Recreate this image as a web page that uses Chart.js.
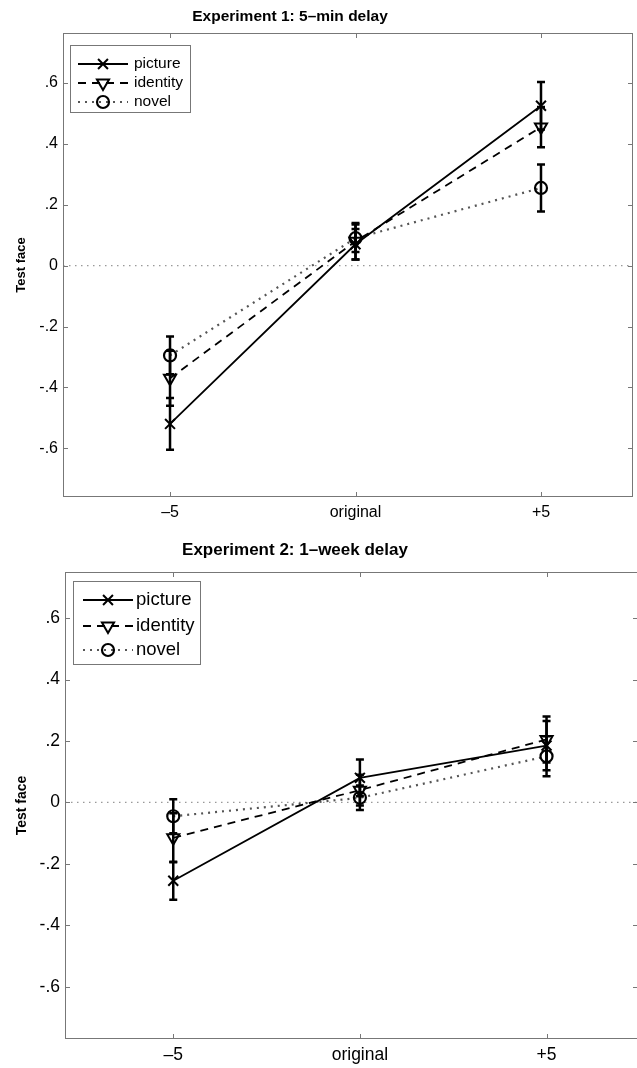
<!DOCTYPE html>
<html>
<head>
<meta charset="utf-8">
<script src="https://cdn.jsdelivr.net/npm/chart.js@4.4.0/dist/chart.umd.min.js"></script>
<style>
  html, body { margin: 0; padding: 0; background: #fff; overflow: hidden; }
  .panel { position: absolute; left: 0; width: 660px; height: 534px; }
</style>
</head>
<body>
<div class="panel" style="top:0"><canvas id="exp1"></canvas></div>
<div class="panel" style="top:534px"><canvas id="exp2"></canvas></div>
<script>
// categorias del eje x y sus posiciones
const categories = ['–5', 'original', '+5'];
const catX = [1, 2, 3];
const yTickValues = [-0.6, -0.4, -0.2, 0, 0.2, 0.4, 0.6];
const yTickLabels = ['-.6', '-.4', '-.2', '0', '.2', '.4', '.6'];
const seriesNames = ['picture', 'identity', 'novel'];

// Experiment 1: 5-min delay
const picture1 = [-0.52, 0.07, 0.525];
const picture1Err = [0.085, 0.05, 0.078];
const identity1 = [-0.37, 0.08, 0.455];
const identity1Err = [0.09, 0.06, 0.066];
const novel1 = [-0.295, 0.09, 0.255];
const novel1Err = [0.062, 0.045, 0.077];

// Experiment 2: 1-week delay
const picture2 = [-0.255, 0.08, 0.185];
const picture2Err = [0.062, 0.06, 0.08];
const identity2 = [-0.115, 0.04, 0.205];
const identity2Err = [0.08, 0.05, 0.075];
const novel2 = [-0.045, 0.015, 0.15];
const novel2Err = [0.055, 0.04, 0.065];

const FONT = '"Liberation Sans", Arial, Helvetica, sans-serif';
const PANEL_W = 660;

// estilo de cada serie
const styles = [
  { borderColor: '#000', borderWidth: 1.8, borderDash: [], pointStyle: 'crossRot', pointRadius: 7, pointBorderWidth: 2, pointRotation: 0 },
  { borderColor: '#000', borderWidth: 1.8, borderDash: [8, 6], pointStyle: 'triangle', pointRadius: 7, pointBorderWidth: 2, pointRotation: 180 },
  { borderColor: '#555', borderWidth: 2.2, borderDash: [2, 5], pointStyle: 'circle', pointRadius: 6, pointBorderWidth: 2.2, pointRotation: 0 }
];

function makeDataset(i, values, errors) {
  return Object.assign({
    label: seriesNames[i],
    data: values.map((v, k) => ({ x: catX[k], y: v })),
    errors: errors,
    pointBorderColor: '#000',
    pointBackgroundColor: 'rgba(0,0,0,0)',
    fill: false,
    tension: 0
  }, styles[i]);
}

// dibuja un marcador como en matlab
function drawMarker(ctx, style, x, y) {
  const r = style.pointRadius;
  ctx.save();
  ctx.strokeStyle = '#000';
  ctx.lineWidth = style.pointBorderWidth;
  ctx.setLineDash([]);
  ctx.beginPath();
  if (style.pointStyle === 'crossRot') {
    const d = r * 0.707;
    ctx.moveTo(x - d, y - d); ctx.lineTo(x + d, y + d);
    ctx.moveTo(x + d, y - d); ctx.lineTo(x - d, y + d);
  } else if (style.pointStyle === 'triangle') {
    ctx.moveTo(x, y + r);
    ctx.lineTo(x - r * 0.866, y - r * 0.5);
    ctx.lineTo(x + r * 0.866, y - r * 0.5);
    ctx.closePath();
  } else {
    ctx.arc(x, y, r, 0, Math.PI * 2);
  }
  ctx.stroke();
  ctx.restore();
}

const matlabLook = {
  id: 'matlabLook',
  beforeDatasetsDraw(chart) {
    // linea punteada en cero
    const ctx = chart.ctx, a = chart.chartArea;
    const y0 = chart.scales.y.getPixelForValue(0);
    ctx.save();
    ctx.strokeStyle = '#999';
    ctx.lineWidth = 1.2;
    ctx.setLineDash([1.5, 4.5]);
    ctx.beginPath();
    ctx.moveTo(a.left, y0); ctx.lineTo(a.right, y0);
    ctx.stroke();
    ctx.restore();
  },
  afterDatasetsDraw(chart) {
    // barras de error
    const ctx = chart.ctx, xs = chart.scales.x, ys = chart.scales.y;
    ctx.save();
    ctx.strokeStyle = '#000';
    ctx.lineWidth = 2.5;
    ctx.setLineDash([]);
    chart.data.datasets.forEach(ds => {
      if (!ds.errors) return;
      ds.data.forEach((p, i) => {
        const px = xs.getPixelForValue(p.x);
        const lo = ys.getPixelForValue(p.y - ds.errors[i]);
        const hi = ys.getPixelForValue(p.y + ds.errors[i]);
        ctx.beginPath();
        ctx.moveTo(px, lo); ctx.lineTo(px, hi);
        ctx.moveTo(px - 4, lo); ctx.lineTo(px + 4, lo);
        ctx.moveTo(px - 4, hi); ctx.lineTo(px + 4, hi);
        ctx.stroke();
      });
    });
    ctx.restore();
  },
  afterDraw(chart, args, opts) {
    const ctx = chart.ctx, a = chart.chartArea, xs = chart.scales.x, ys = chart.scales.y;
    ctx.save();
    // marco y ticks hacia adentro
    ctx.strokeStyle = '#777';
    ctx.lineWidth = 1;
    ctx.setLineDash([]);
    ctx.strokeRect(a.left + 0.5, a.top + 0.5, a.right - a.left - 1, a.bottom - a.top - 1);
    ctx.beginPath();
    ys.ticks.forEach(t => {
      const py = Math.round(ys.getPixelForValue(t.value)) + 0.5;
      ctx.moveTo(a.left, py); ctx.lineTo(a.left + 5, py);
      ctx.moveTo(a.right, py); ctx.lineTo(a.right - 5, py);
    });
    xs.ticks.forEach(t => {
      const px = Math.round(xs.getPixelForValue(t.value)) + 0.5;
      ctx.moveTo(px, a.top); ctx.lineTo(px, a.top + 5);
      ctx.moveTo(px, a.bottom); ctx.lineTo(px, a.bottom - 5);
    });
    ctx.stroke();

    // titulo
    ctx.fillStyle = '#000';
    ctx.font = 'bold ' + opts.titleSize + 'px ' + FONT;
    ctx.textAlign = 'center';
    ctx.textBaseline = 'middle';
    ctx.fillText(opts.title, opts.titleX, opts.titleY);

    // leyenda
    const L = opts.legend;
    ctx.fillStyle = '#fff';
    ctx.fillRect(L.left, L.top, L.right - L.left, L.bottom - L.top);
    ctx.strokeStyle = '#777';
    ctx.strokeRect(L.left + 0.5, L.top + 0.5, L.right - L.left, L.bottom - L.top);
    ctx.font = L.fontSize + 'px ' + FONT;
    ctx.textAlign = 'left';
    chart.data.datasets.forEach((ds, i) => {
      const ry = L.rows[i];
      ctx.strokeStyle = styles[i].borderColor;
      ctx.lineWidth = styles[i].borderWidth;
      ctx.setLineDash(styles[i].borderDash);
      ctx.beginPath();
      ctx.moveTo(L.lineX0, ry); ctx.lineTo(L.lineX1, ry);
      ctx.stroke();
      drawMarker(ctx, styles[i], (L.lineX0 + L.lineX1) / 2, ry);
      ctx.fillStyle = '#000';
      ctx.fillText(ds.label, L.textX, ry);
    });
    ctx.restore();
  }
};

function makeChart(id, datasets, cfg) {
  const ctx = document.getElementById(id).getContext('2d');
  const chart = new Chart(ctx, {
    type: 'line',
    data: { datasets: datasets },
    plugins: [matlabLook],
    options: {
      responsive: true,
      maintainAspectRatio: false,
      animation: false,
      layout: { padding: { top: cfg.top, right: PANEL_W - cfg.right, left: 0, bottom: 0 } },
      plugins: {
        legend: { display: false },
        tooltip: { enabled: false },
        title: { display: false },
        matlabLook: cfg.look
      },
      scales: {
        x: {
          type: 'linear',
          min: cfg.xMin,
          max: cfg.xMax,
          afterBuildTicks: s => { s.ticks = catX.map(v => ({ value: v })); },
          afterFit: s => { s.height = cfg.xAxisH; },
          grid: { display: false, drawTicks: false },
          border: { display: false },
          ticks: {
            padding: cfg.xPad, color: '#000', autoSkip: false, maxRotation: 0,
            font: { family: FONT, size: cfg.tickSize },
            callback: (v, i) => categories[i]
          }
        },
        y: {
          min: cfg.yMin,
          max: cfg.yMax,
          afterBuildTicks: s => { s.ticks = yTickValues.map(v => ({ value: v })); },
          afterFit: s => { s.width = cfg.yAxisW; },
          grid: { display: false, drawTicks: false },
          border: { display: false },
          ticks: {
            padding: cfg.yPad, color: '#000',
            font: { family: FONT, size: cfg.tickSize },
            callback: (v, i) => yTickLabels[i]
          },
          title: {
            display: true, text: 'Test face', color: '#000',
            font: { family: FONT, size: cfg.labelSize, weight: 'bold' },
            padding: { top: cfg.labelPad, bottom: 0 }
          }
        }
      }
    }
  });
  // ajusta el borde derecho del area del grafico
  for (let k = 0; k < 3; k++) {
    const diff = cfg.right - chart.chartArea.right;
    if (Math.abs(diff) < 0.5) break;
    chart.options.layout.padding.right -= diff;
    chart.update();
  }
  return chart;
}

makeChart('exp1', [
  makeDataset(0, picture1, picture1Err),
  makeDataset(1, identity1, identity1Err),
  makeDataset(2, novel1, novel1Err)
], {
  top: 33, right: 633, xAxisH: 37, yAxisW: 63,
  xMin: 0.423, xMax: 3.496, yMin: -0.76, yMax: 0.764,
  xPad: 6, yPad: 5, tickSize: 16, labelSize: 13, labelPad: 14,
  look: {
    title: 'Experiment 1: 5–min delay', titleSize: 15.5, titleX: 290, titleY: 17,
    legend: { left: 70, top: 45, right: 190, bottom: 112, rows: [64, 83, 102],
              lineX0: 78, lineX1: 128, textX: 134, fontSize: 15.5 }
  }
});

makeChart('exp2', [
  makeDataset(0, picture2, picture2Err),
  makeDataset(1, identity2, identity2Err),
  makeDataset(2, novel2, novel2Err)
], {
  top: 38, right: 638, xAxisH: 29, yAxisW: 65,
  xMin: 0.42, xMax: 3.49, yMin: -0.77, yMax: 0.75,
  xPad: 6, yPad: 5, tickSize: 17.5, labelSize: 14, labelPad: 14,
  look: {
    title: 'Experiment 2: 1–week delay', titleSize: 17, titleX: 295, titleY: 16,
    legend: { left: 73, top: 47, right: 200, bottom: 130, rows: [66, 92, 116],
              lineX0: 83, lineX1: 133, textX: 136, fontSize: 18.5 }
  }
});
</script>
</body>
</html>
